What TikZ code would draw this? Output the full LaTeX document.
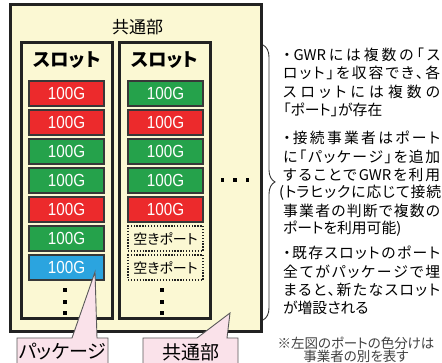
\documentclass[tikz,border=0pt]{standalone}
\usepackage{fontspec}
\setmainfont{Liberation Sans}
\newfontfamily\portfont[FakeStretch=0.87]{Liberation Sans}
\newfontfamily\jp[RawFeature=+palt]{Noto Sans CJK JP}
\usetikzlibrary{decorations.pathreplacing}
\definecolor{cream}{HTML}{FBF8D3}
\definecolor{pred}{HTML}{EC2A2C}
\definecolor{pgreen}{HTML}{25A24B}
\definecolor{pblue}{HTML}{2BA4DF}
\definecolor{pinkc}{HTML}{FAE2EA}
\definecolor{edgec}{HTML}{222222}
\definecolor{portedge}{HTML}{383838}
\newskip\sprdskip \sprdskip=0pt plus 1fil minus 1.5pt
\def\sprd#1{\ifx\relax#1\else#1\hskip\sprdskip\expandafter\sprd\fi}
\newcommand\jl[1]{\hbox to 157pt{\sprd#1\relax\unskip}}
\tikzset{
  outerbox/.style={draw=edgec, fill=cream, line width=3pt, inner sep=0pt},
  slotbox/.style={draw=edgec, fill=cream, line width=3pt, inner sep=0pt, minimum width=91pt, minimum height=276pt},
  port/.style={draw=portedge, line width=1.5pt, minimum width=75pt, minimum height=25pt, inner sep=0pt, text=white, font=\portfont\fontsize{17.5}{18}\selectfont},
  freeport/.style={draw=edgec, line width=1.3pt, dash pattern=on 1.3pt off 1.6pt, fill=cream, minimum width=75pt, minimum height=25pt, inner sep=0pt, text=black, font=\jp\fontsize{14}{14}\selectfont},
  slottitle/.style={font=\jp\bfseries\fontsize{18.5}{19}\selectfont, inner sep=0pt},
  rtext/.style={anchor=west, inner sep=0pt, font=\jp\fontsize{14.8}{15}\selectfont, text=black},
  note/.style={inner sep=0pt, font=\jp\fontsize{13.5}{14}\selectfont, text=black!75},
  callout/.style={draw=black!65, fill=pinkc, line width=0.9pt, line join=miter},
  ctext/.style={inner sep=0pt, font=\jp\fontsize{19}{19}\selectfont},
  bracestyle/.style={draw=black!80, line width=0.9pt, decorate, decoration={brace, amplitude=12pt, aspect=0.498}},
  dot/.style={fill=black}
}
\begin{document}
\begin{tikzpicture}[x=1pt, y=-1pt]
\path[use as bounding box, fill=white] (0,0) rectangle (442,363);
\clip (0,0) rectangle (442,363);

% outer common part
\node[outerbox, minimum width=251pt, minimum height=327pt] (common) at (135.5,168.5) {};
\node[inner sep=0pt, font=\jp\fontsize{17}{17}\selectfont] (ctitle) at (137.5,27) {共通部};

% slots
\node[slotbox] (slotA) at (66.5,181) {};
\node[slotbox] (slotB) at (164.5,181) {};
\node[slottitle] (titleA) at (67,60) {スロット};
\node[slottitle] (titleB) at (164.5,60) {スロット};

% ports slot A
\foreach \c [count=\i from 0] in {pred,pred,pgreen,pgreen,pred,pgreen,pblue}
  \node[port, fill=\c] (a\i) at (66.5,{93.5+29*\i}) {100G};
% ports slot B
\foreach \c [count=\i from 0] in {pgreen,pred,pgreen,pgreen,pred}
  \node[port, fill=\c] (b\i) at (165.5,{93.5+29*\i}) {100G};
\node[freeport] (b5) at (165.5,238.5) {空きポート};
\node[freeport] (b6) at (165.5,267.5) {空きポート};

% vertical dots
\foreach \y in {290,302,313} {
  \fill[dot] (63.3,\y-1.7) rectangle (66.7,\y+1.7);
  \fill[dot] (160.3,\y-1.7) rectangle (163.7,\y+1.7);
}
% horizontal dots
\foreach \x in {222.5,235,247.5}
  \fill[dot] (\x-1.7,178.3) rectangle (\x+1.7,181.7);

% brace
\coordinate (bt) at (263,45);
\coordinate (bb) at (263,320);
\draw[bracestyle] (bt) -- (bb);

% right text
\node[rtext] (l1) at (283,55) {\jl{・{GWR}には複数の「ス}};
\node[rtext] (l2) at (283,73) {\jl{ロット」を収容でき、各}};
\node[rtext] (l3) at (283,92) {\jl{スロットには複数の}};
\node[rtext] (l4) at (283,110) {「ポート」が存在};
\node[rtext] (l5) at (283,138) {\jl{・接続事業者はポート}};
\node[rtext] (l6) at (283,156.5) {\jl{に「パッケージ」を追加}};
\node[rtext] (l7) at (283,175) {\jl{することで{GWR}を利用}};
\node[rtext] (l8) at (279,193) {\hbox to 162pt{\sprd({トラ}ヒックに応じて接続\relax\unskip}};
\node[rtext] (l9) at (283,211) {\jl{事業者の判断で複数の}};
\node[rtext] (l10) at (283,229) {ポートを利用可能)};
\node[rtext] (l11) at (283,253) {\jl{・既存スロットのポート}};
\node[rtext] (l12) at (283,272) {\jl{全てがパッケージで埋}};
\node[rtext] (l13) at (283,290) {\jl{まると、新たなスロット}};
\node[rtext] (l14) at (283,308) {が増設される};

\node[note] (n1) at (356,343) {※左図のポートの色分けは};
\node[note] (n2) at (356,356.5) {事業者の別を表す};

% callouts
\coordinate (tipP) at (95,272);
\coordinate (tipC) at (230,313);
\path[callout] (17,338) -- (72,338) -- (tipP) -- (97,338) -- (108,338) -- (108,380) -- (17,380) -- cycle;
\path[callout] (143,338) -- (197,338) -- (tipC) -- (227,338) -- (238,338) -- (238,380) -- (143,380) -- cycle;
\node[ctext] (pkg) at (62.5,352) {パッケージ};
\node[ctext] (cmn) at (190.5,352) {共通部};
\end{tikzpicture}
\end{document}
